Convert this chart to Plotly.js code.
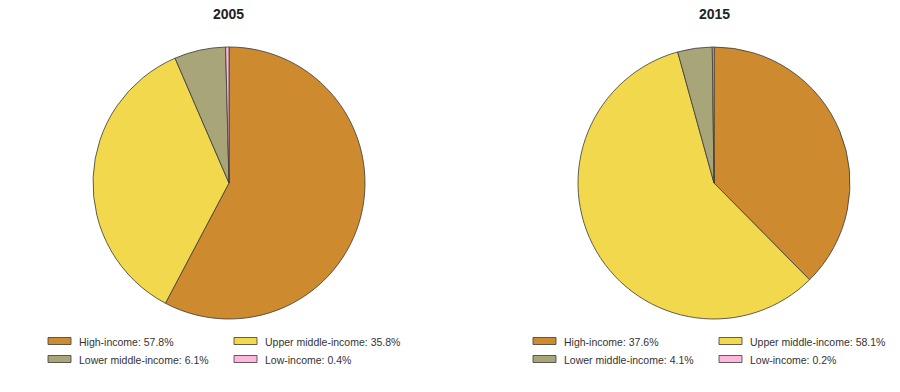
<!DOCTYPE html>
<html>
<head>
<meta charset="utf-8">
<script src="https://cdn.plot.ly/plotly-3.0.1.min.js"></script>
<style>html,body{margin:0;padding:0;background:#fff;}#chart{width:900px;height:392px;}</style>
</head>
<body>
<div id="chart"></div>
<script>
const categories = ["High-income", "Upper middle-income", "Lower middle-income", "Low-income"];
const values2005 = [57.8, 35.8, 6.1, 0.4];
const values2015 = [37.6, 58.1, 4.1, 0.2];
const years = ["2005", "2015"];
const colors = ["#CD8A2E", "#F1D84C", "#A8A578", "#FFB6DD"];

const W = 900, H = 392;
const centers = [229, 714];
const cy = 183, R = 136;
const seriesList = [values2005, values2015];

const traces = seriesList.map((vals, i) => ({
  type: "pie",
  values: vals,
  labels: categories,
  sort: false,
  direction: "clockwise",
  rotation: 0,
  textinfo: "none",
  hoverinfo: "label+percent",
  showlegend: false,
  marker: {colors: colors, line: {color: "#3a3a3a", width: 0.8}},
  domain: {
    x: [(centers[i] - R) / W, (centers[i] + R) / W],
    y: [1 - (cy + R) / H, 1 - (cy - R) / H]
  }
}));

const shapes = [];
const annotations = [];
years.forEach((y, i) => {
  annotations.push({
    xref: "paper", yref: "paper", x: centers[i] / W, y: 1 - 14 / H,
    xanchor: "center", yanchor: "middle", showarrow: false,
    text: "<b>" + y + "</b>", font: {family: "Liberation Sans, Arial, sans-serif", size: 14, color: "#222"}
  });
});
const legendCols = [[48, 234], [533, 719]];
const rowY = [341, 359];
seriesList.forEach((vals, i) => {
  categories.forEach((c, k) => {
    const col = k % 2, row = Math.floor(k / 2);
    const x0 = legendCols[i][col];
    const yc = rowY[row];
    shapes.push({
      type: "rect", xref: "paper", yref: "paper",
      x0: x0 / W, x1: (x0 + 23) / W,
      y0: 1 - (yc + 3.5) / H, y1: 1 - (yc - 3.5) / H,
      fillcolor: colors[k], line: {color: "#3a3a3a", width: 0.8}
    });
    annotations.push({
      xref: "paper", yref: "paper", x: (x0 + 29) / W, y: 1 - (yc + 0.5) / H,
      xanchor: "left", yanchor: "middle", showarrow: false,
      text: c + ": " + vals[k].toFixed(1) + "%",
      font: {family: "Liberation Sans, Arial, sans-serif", size: 10.5, color: "#333"}
    });
  });
});

const layout = {
  width: W, height: H,
  margin: {l: 0, r: 0, t: 0, b: 0},
  paper_bgcolor: "#ffffff",
  showlegend: false,
  shapes: shapes,
  annotations: annotations
};
Plotly.newPlot("chart", traces, layout, {displayModeBar: false, staticPlot: true});
</script>
</body>
</html>
